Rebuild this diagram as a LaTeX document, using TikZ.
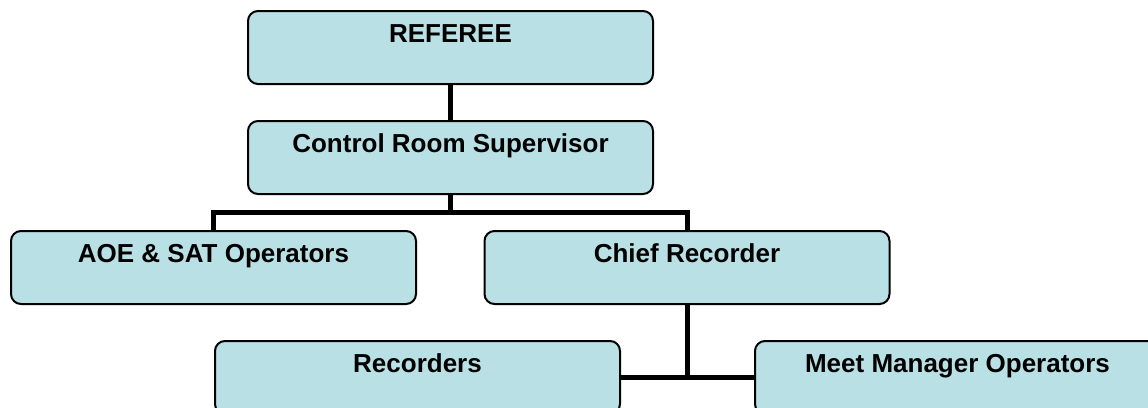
\documentclass[tikz,border=0pt]{standalone}
\usepackage{fontspec}
\setmainfont{Liberation Sans}
\usepackage{tikz}
\usetikzlibrary{calc}
\definecolor{boxfill}{RGB}{185,224,228}

\begin{document}
\begin{tikzpicture}[x=0.75pt, y=-0.75pt,
		post/.style={draw=black, fill=boxfill, line width=1.5pt, rounded corners=7.5pt,
			anchor=north, inner sep=0pt, minimum width=303.75pt,
			text height=23.25pt, text depth=31.5pt,
			font=\fontsize{19.5}{23}\selectfont\bfseries},
		link/.style={line width=3.75pt}]
		%%%%% START %%%%%
		\useasboundingbox (0, 0) rectangle (1148, 407);
		\clip (0, 0) rectangle (1148, 407);
		
		\node[post] (referee) at (450.5, 10) {REFEREE};
		\node[post] (control) at (450.5, 120) {Control Room Supervisor};
		
		\node[post] (aoe) at (213.5, 230) {AOE \& SAT Operators};
		\node[post] (chief) at (687, 230) {Chief Recorder};
		
		\node[post] (recorders) at (417.5, 340) {Recorders};
		\node[post] (meet) at (957.5, 340) {Meet Manager Operators};
		
		\draw[link] (referee.south) -- (control.north);
		
		\coordinate (split) at ($(control.south)!0.5!(control.south |- aoe.north)$);
		\draw[link] (control.south) -- (split);
		\draw[link] (split) -| (aoe.north);
		\draw[link] (split) -| (chief.north);
		
		\draw[link] (chief.south) |- (recorders.east);
		\draw[link] (chief.south) |- (meet.west);
		%%%%% END %%%%%
	\end{tikzpicture}
\end{document}
